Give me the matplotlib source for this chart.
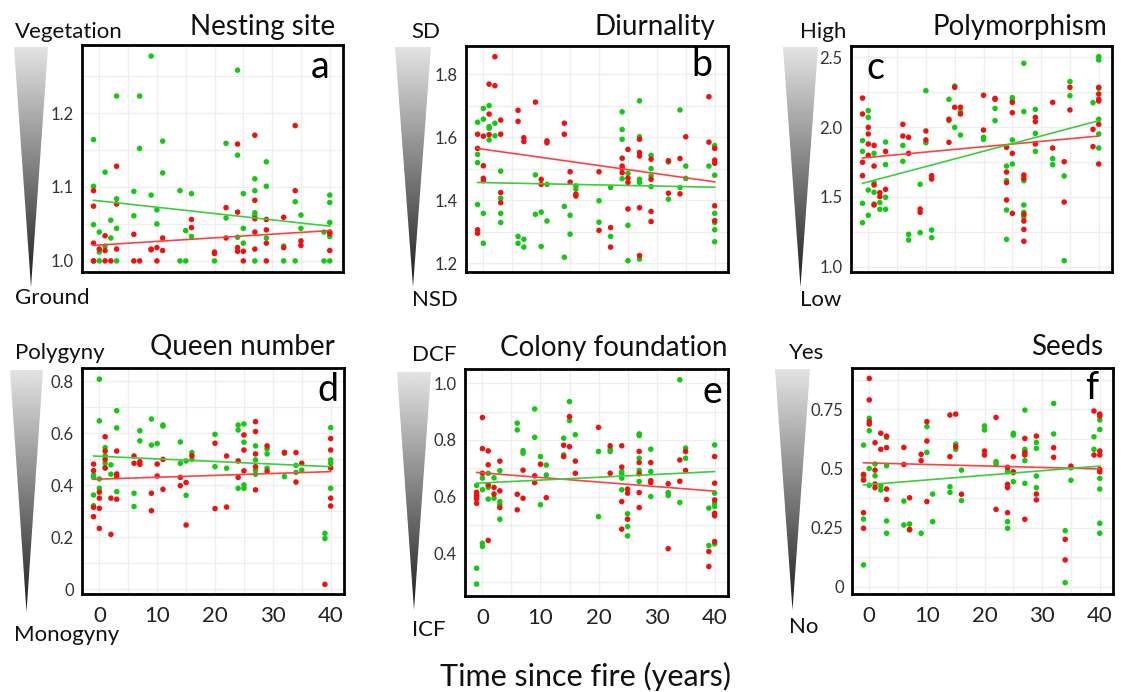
import numpy as np
import matplotlib.pyplot as plt
from matplotlib.patches import Polygon
from matplotlib.ticker import MultipleLocator

plt.rcParams['font.family'] = ['Lato', 'DejaVu Sans']

# Site ages (years since fire) shared by every panel
ages = [-1, 0, 1, 2, 3, 6, 7, 9, 10, 11, 14, 15, 16, 20, 22, 24, 25, 27, 29, 32, 34, 35, 39, 40]
fit_x = [-1, 40]

# a - Nesting site
a_red = [[1.095, 1.074, 1.024, 1.0], [1.016], [1.034, 1.014, 1.0], [1.0], [1.128, 1.077, 1.016],
         [1.036, 1.0], [1.0], [1.016, 1.015], [1.018, 1.0], [1.031, 1.014], [], [], [1.056, 1.045],
         [1.012, 1.010], [1.072, 1.031], [1.158, 1.066, 1.018, 1.013], [1.013, 1.0],
         [1.170, 1.082, 1.057, 1.039, 1.016], [1.056, 1.042, 1.024, 1.0], [1.059, 1.018],
         [1.183, 1.095], [1.027, 1.021], [], [1.039, 1.037, 1.014]]
a_green = [[1.164, 1.101, 1.049, 1.0], [1.039, 1.012, 1.0], [1.120, 1.020], [1.055, 1.031],
           [1.223, 1.084, 1.044, 1.0], [1.094, 1.061], [1.223, 1.152], [1.277, 1.089], [1.069, 1.050],
           [1.162, 1.119], [1.095, 1.0], [1.041, 1.0], [1.091, 1.033], [1.0], [1.159, 1.058],
           [1.258, 1.143, 1.032], [1.091, 1.044, 1.024], [1.111, 1.095, 1.065, 1.061, 1.0],
           [1.134, 1.101, 1.031], [1.020, 1.0], [1.080, 1.0], [1.062, 1.044], [1.039, 1.0],
           [1.089, 1.079, 1.052, 1.033, 1.0]]
a_red_fit = [1.021, 1.041]
a_green_fit = [1.082, 1.047]

# b - Diurnality
b_red = [[1.609, 1.564, 1.306, 1.295], [1.603, 1.509, 1.469, 1.462], [1.768, 1.673, 1.608], [1.855, 1.763],
         [1.654, 1.609, 1.424, 1.392], [1.685, 1.650], [1.598, 1.586], [1.711], [1.466, 1.450],
         [1.588, 1.582], [1.644, 1.609], [1.490, 1.457], [1.419, 1.413], [1.490, 1.304], [1.313, 1.251],
         [1.533, 1.508, 1.501, 1.487], [1.561, 1.470, 1.456, 1.372], [1.593, 1.551, 1.540, 1.376, 1.224],
         [1.530, 1.466, 1.364, 1.332], [1.525, 1.422], [1.532, 1.420], [1.601], [1.728, 1.584],
         [1.564, 1.527, 1.517, 1.382, 1.335]]
b_green = [[1.647, 1.545, 1.519, 1.386], [1.691, 1.657, 1.358, 1.263], [1.700, 1.633, 1.628, 1.591],
           [1.644, 1.604], [1.492, 1.406, 1.358, 1.329], [1.285, 1.263], [1.276, 1.251], [1.480, 1.355],
           [1.362, 1.253], [1.450, 1.334], [1.380, 1.219], [1.352, 1.292], [1.445, 1.435], [1.398, 1.330],
           [1.440, 1.285], [1.680, 1.624, 1.593, 1.468], [1.485, 1.320, 1.208],
           [1.715, 1.601, 1.466, 1.456, 1.213], [1.542, 1.500, 1.477, 1.443], [1.521, 1.403],
           [1.686, 1.440], [1.508, 1.469], [1.508], [1.573, 1.479, 1.358, 1.329, 1.306, 1.268]]
b_red_fit = [1.564, 1.458]
b_green_fit = [1.456, 1.441]

# c - Polymorphism
c_red = [[2.208, 2.094, 1.748, 1.652], [1.998, 1.951, 1.879, 1.798], [1.869, 1.721, 1.585, 1.442],
         [1.530, 1.502], [1.826, 1.554], [2.020, 1.936], [1.927, 1.812], [1.413, 1.389], [1.972, 1.908],
         [1.652, 1.628], [2.056, 1.891], [2.285, 2.142], [2.142, 2.094], [2.228, 1.979], [2.206, 2.199],
         [1.855, 1.678, 1.602, 1.478], [2.177, 2.103, 1.812, 1.382],
         [1.657, 1.633, 1.375, 1.327, 1.267, 1.182], [2.070, 2.039, 1.879], [2.177, 1.850],
         [1.752, 1.463], [2.285, 2.123], [1.984, 1.860], [2.285, 2.237, 2.199, 2.187, 2.020, 1.736]]
c_green = [[1.903, 1.826, 1.454, 1.315], [2.118, 2.070, 1.549, 1.368], [1.812, 1.602, 1.533, 1.449],
           [1.459, 1.411], [1.893, 1.731, 1.497, 1.411], [1.869, 1.755], [1.232, 1.191], [1.590, 1.244],
           [2.261, 1.888], [1.263, 1.208], [2.199, 2.046], [2.294, 1.998], [2.111, 1.943], [1.927, 1.912],
           [2.134, 2.046], [1.721, 1.616, 1.406, 1.196], [2.211, 2.189, 1.908, 1.736],
           [2.457, 2.111, 1.616, 1.442, 1.389, 1.353], [2.127, 1.955, 1.826], [1.774, 1.731],
           [1.650, 1.043], [2.326, 2.225], [2.175], [2.505, 2.481, 2.278, 2.056, 1.951, 1.850]]
c_red_fit = [1.779, 1.936]
c_green_fit = [1.597, 2.046]

# d - Queen number
d_red = [[0.481, 0.456, 0.315, 0.279], [0.373, 0.350, 0.311, 0.234], [0.586, 0.531, 0.499, 0.466],
         [0.350, 0.211], [0.531, 0.443, 0.433, 0.346], [0.512, 0.484], [0.490, 0.480], [0.369, 0.302],
         [0.481, 0.435], [0.499, 0.384], [0.430, 0.398], [0.410, 0.247], [0.513], [0.561, 0.310],
         [0.512, 0.316], [0.493, 0.430], [0.593, 0.535, 0.455], [0.644, 0.606, 0.520, 0.471, 0.382],
         [0.551, 0.453], [0.526], [0.525, 0.412], [0.484], [0.019], [0.579, 0.535, 0.466, 0.350, 0.320]]
d_green = [[0.439, 0.430, 0.362, 0.321], [0.807, 0.647, 0.424, 0.388], [0.544, 0.513, 0.484, 0.467],
           [0.478, 0.442], [0.686, 0.620, 0.375], [0.369, 0.318], [0.609, 0.570], [0.654, 0.554],
           [0.560], [0.631, 0.627], [0.566, 0.484], [0.493, 0.361], [0.525, 0.499], [0.595, 0.471],
           [0.465], [0.631, 0.612, 0.388], [0.635, 0.565, 0.401, 0.388], [0.551, 0.497, 0.458, 0.442],
           [0.539, 0.520, 0.465], [0.522, 0.433], [0.476, 0.449], [0.458], [0.215, 0.195],
           [0.621, 0.497, 0.484, 0.388]]
d_red_fit = [0.4225, 0.452]
d_green_fit = [0.512, 0.471]

# e - Colony foundation
e_red = [[0.615, 0.604, 0.592, 0.576], [0.879, 0.769, 0.682], [0.761, 0.712, 0.641, 0.445], [0.632, 0.609],
         [0.725, 0.620, 0.561], [0.608, 0.553], [0.693, 0.594], [0.673, 0.649], [0.714], [0.596],
         [0.781, 0.741], [0.882, 0.776], [0.725, 0.682], [0.844], [0.779, 0.682],
         [0.779, 0.704, 0.582, 0.485], [0.626, 0.612, 0.520], [0.759, 0.720, 0.680, 0.614, 0.561],
         [0.720, 0.656, 0.649], [0.645, 0.416], [0.729, 0.654], [0.759, 0.692], [0.406, 0.353],
         [0.741, 0.647, 0.588, 0.541, 0.532, 0.441]]
e_green = [[0.639, 0.600, 0.347, 0.291], [0.665, 0.624, 0.435, 0.424], [0.682, 0.632, 0.591], [0.666, 0.594],
           [0.691, 0.582, 0.571, 0.520], [0.859, 0.835], [0.762, 0.753], [0.909, 0.809], [0.741, 0.571],
           [0.711, 0.676], [0.806, 0.747], [0.935, 0.868], [0.818], [0.759, 0.529], [0.767, 0.759],
           [0.688, 0.680, 0.665, 0.624], [0.539, 0.494, 0.461], [0.821, 0.815, 0.735, 0.692, 0.653],
           [0.767, 0.688, 0.600], [0.614, 0.604], [1.012, 0.579], [0.771, 0.735], [0.559, 0.427],
           [0.782, 0.612, 0.576, 0.565, 0.433]]
e_red_fit = [0.685, 0.619]
e_green_fit = [0.647, 0.688]

# f - Seeds
f_red = [[0.475, 0.451, 0.313, 0.247], [0.881, 0.790, 0.698, 0.688], [0.609, 0.493, 0.434, 0.419],
         [0.649, 0.581], [0.637, 0.588, 0.413, 0.369], [0.589, 0.517], [0.376, 0.242], [0.560, 0.533],
         [0.698, 0.616, 0.360], [], [0.726, 0.550], [0.730, 0.592], [0.391], [0.574, 0.557],
         [0.716, 0.327], [0.505, 0.433, 0.419, 0.313], [0.550, 0.486], [0.627, 0.567, 0.557, 0.285],
         [0.637, 0.392, 0.367], [0.588, 0.547], [0.200, 0.113], [0.510], [0.743, 0.557],
         [0.730, 0.722, 0.574, 0.557, 0.496, 0.486]]
f_green = [[0.599, 0.468, 0.454, 0.286, 0.092], [0.712, 0.660, 0.500, 0.429], [0.519, 0.469], [0.426, 0.409],
           [0.632, 0.512, 0.278, 0.226], [0.362, 0.261], [0.265, 0.240], [0.226], [0.677, 0.568],
           [0.392, 0.275], [0.423, 0.399], [0.603, 0.581], [0.493, 0.364], [0.680, 0.663], [0.529, 0.519],
           [0.493, 0.486, 0.275, 0.247], [0.649, 0.641, 0.482, 0.444], [0.747, 0.581, 0.571, 0.533, 0.437],
           [0.610, 0.585, 0.468, 0.419], [0.775, 0.646], [0.237, 0.017], [0.503, 0.450], [0.634, 0.581],
           [0.705, 0.665, 0.458, 0.413, 0.268, 0.226]]
f_red_fit = [0.524, 0.498]
f_green_fit = [0.430, 0.510]

titles = ['Nesting site', 'Diurnality', 'Polymorphism', 'Queen number', 'Colony foundation', 'Seeds']
letters = ['a', 'b', 'c', 'd', 'e', 'f']
top_labels = ['Vegetation', 'SD', 'High', 'Polygyny', 'DCF', 'Yes']
bottom_labels = ['Ground', 'NSD', 'Low', 'Monogyny', 'ICF', 'No']
yticks = [[1.0, 1.1, 1.2], [1.2, 1.4, 1.6, 1.8], [1.0, 1.5, 2.0, 2.5],
          [0, 0.2, 0.4, 0.6, 0.8], [0.4, 0.6, 0.8, 1.0], [0, 0.25, 0.5, 0.75]]
ytick_labels = [['1.0', '1.1', '1.2'], ['1.2', '1.4', '1.6', '1.8'], ['1.0', '1.5', '2.0', '2.5'],
                ['0', '0.2', '0.4', '0.6', '0.8'], ['0.4', '0.6', '0.8', '1.0'], ['0', '0.25', '0.5', '0.75']]
xticks = [0, 10, 20, 30, 40]

W, H = 1121, 692
RED, GREEN = '#f01010', '#14c814'


def expand(groups):
    xs = np.repeat(ages, [len(g) for g in groups])
    ys = np.concatenate([np.array(g, dtype=float) for g in groups])
    return xs, ys


panels = [
    (a_red, a_green, a_red_fit, a_green_fit, (0.985, 1.292), 0.05),
    (b_red, b_green, b_red_fit, b_green_fit, (1.172, 1.889), 0.1),
    (c_red, c_green, c_red_fit, c_green_fit, (0.962, 2.581), 0.25),
    (d_red, d_green, d_red_fit, d_green_fit, (-0.018, 0.85), 0.1),
    (e_red, e_green, e_red_fit, e_green_fit, (0.249, 1.05), 0.1),
    (f_red, f_green, f_red_fit, f_green_fit, (-0.031, 0.925), 0.125),
]

# pixel boxes (left, top, right, bottom)
boxes = [(82, 45, 343, 272), (466, 46, 728, 272), (851, 46, 1112, 272),
         (82, 368, 344, 594), (465, 369, 728, 596), (852, 368, 1113, 594)]

fig = plt.figure(figsize=(W / 100, H / 100), dpi=100)

for i, (red, green, rfit, gfit, ylim, ystep) in enumerate(panels):
    l, t, r, b = boxes[i]
    ax = fig.add_axes([l / W, 1 - b / H, (r - l) / W, (b - t) / H])
    gx, gy = expand(green)
    rx, ry = expand(red)
    ax.scatter(gx, gy, s=16, color=GREEN, edgecolors='none', zorder=3)
    ax.scatter(rx, ry, s=16, color=RED, edgecolors='none', zorder=3)
    ax.plot(fit_x, rfit, color='#ff4040', lw=1.2, zorder=4)
    ax.plot(fit_x, gfit, color='#3ccc3c', lw=1.2, zorder=4)
    ax.set_xlim(-3, 42.3)
    ax.set_ylim(*ylim)
    ax.set_yticks(yticks[i])
    ax.set_yticklabels(ytick_labels[i], color='#333333', fontsize=12)
    ax.yaxis.set_minor_locator(MultipleLocator(ystep))
    ax.set_xticks(xticks)
    ax.xaxis.set_minor_locator(MultipleLocator(5))
    if i < 3:
        ax.set_xticklabels([])
    else:
        ax.set_xticklabels([str(v) for v in xticks], fontsize=16, color='#222222')
    ax.tick_params(which='both', length=0, pad=6)
    ax.tick_params(axis='x', pad=9)
    ax.grid(which='both', color='#eeeeee', lw=0.9)
    ax.set_axisbelow(True)
    for sp in ax.spines.values():
        sp.set_linewidth(2)
        sp.set_color('black')

# overlay for gradient wedges and the labels around the panels
ov = fig.add_axes([0, 0, 1, 1], zorder=10)
ov.set_xlim(0, W)
ov.set_ylim(H, 0)
ov.axis('off')

wedges = [(14, 48, 47, 287), (395, 431, 47, 287), (783, 818, 47, 287),
          (10, 43, 370, 612), (397, 431, 372, 610), (775, 810, 369, 610)]
grad = np.linspace(0.89, 0.12, 256).reshape(-1, 1)
for x0, x1, y0, y1 in wedges:
    im = ov.imshow(grad, cmap='gray', vmin=0, vmax=1, extent=[x0, x1, y1, y0],
                   origin='upper', aspect='auto', interpolation='bilinear')
    tri = Polygon([(x0, y0), (x1, y0), ((x0 + x1) / 2, y1)], closed=True,
                  transform=ov.transData, facecolor='none', edgecolor='none')
    ov.add_patch(tri)
    im.set_clip_path(tri)
ov.set_xlim(0, W)
ov.set_ylim(H, 0)

top_pos = [(15, 32), (411, 32), (800, 32), (15, 353), (412, 355), (789, 353)]
bot_pos = [(15, 298), (412, 300), (800, 300), (14, 635), (412, 630), (789, 627)]
for i in range(6):
    ov.text(*top_pos[i], top_labels[i], fontsize=16, ha='left', va='center', color='#111111')
    ov.text(*bot_pos[i], bottom_labels[i], fontsize=16, ha='left', va='center', color='#111111')

title_pos = [(335, 27), (715, 27), (1107, 27), (335, 347), (728, 348), (1103, 347)]
for i in range(6):
    ov.text(*title_pos[i], titles[i], fontsize=20, ha='right', va='center', color='#111111')

letter_pos = [(320, 67), (702, 65), (875, 68), (328, 390), (712, 392), (1092, 388)]
for i in range(6):
    ov.text(*letter_pos[i], letters[i], fontsize=27, ha='center', va='center', color='black')

ov.text(585, 676, 'Time since fire (years)', fontsize=22, ha='center', va='center', color='#111111')

fig.savefig('out.png', dpi=100)
